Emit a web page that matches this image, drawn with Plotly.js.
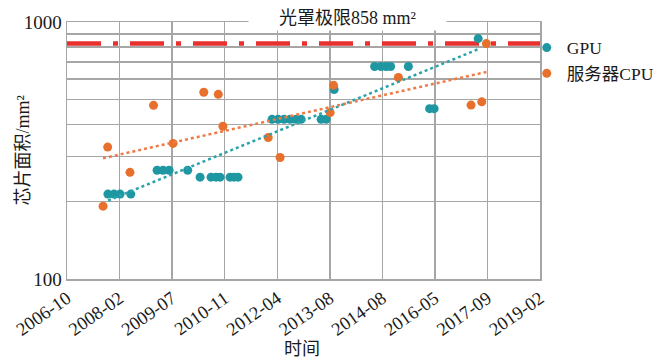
<!DOCTYPE html>
<html>
<head>
<meta charset="utf-8">
<script src="https://cdn.plot.ly/plotly-3.0.1.min.js"></script>
<style>html,body{margin:0;padding:0;background:#fff;}#chart{width:660px;height:358px;}</style>
</head>
<body>
<div id="chart"></div>
<script>
// ---- data ----
const gpuDates = ['2007-11-08','2008-01-05','2008-03-03','2008-06-13','2009-02-18','2009-04-16','2009-06-12','2009-12-06',
  '2010-04-03','2010-07-16','2010-09-02','2010-10-10','2011-01-13','2011-02-20','2011-03-30',
  '2012-02-16','2012-04-14','2012-06-10','2012-08-06','2012-10-02','2012-11-19','2013-05-28','2013-07-15','2013-09-29',
  '2014-10-19','2014-12-19','2015-02-05','2015-03-20','2015-09-05','2016-03-25','2016-05-07','2017-06-30'];
const gpuArea = [214,214,214,214,265,265,265,265,
  249,249,249,249,249,249,249,
  418,418,418,418,418,418,418,418,546,
  671,671,671,671,671,460,460,862];

const cpuDates = ['2007-09-23','2007-11-06','2008-06-05','2009-01-15','2009-07-20','2010-05-08','2010-09-23','2010-11-06',
  '2012-01-11','2012-05-03','2013-08-22','2013-09-23','2015-06-02','2017-04-23','2017-08-03','2017-09-16'];
const cpuArea = [192,326,260,474,337,533,523,393,355,297,444,567,608,475,489,824];

const gpuTrendDates = ['2007-11-10','2017-06-28'];
const gpuTrendArea = [202,783];
const cpuTrendDates = ['2007-09-23','2017-09-16'];
const cpuTrendArea = [295,639];

const limitDates = ['2006-10-15','2019-02-08'];
const limitArea = [825,825];

const tickDates = ['2006-10-15','2008-02-27','2009-07-11','2010-11-23','2012-04-06','2013-08-19','2014-12-31','2016-05-14','2017-09-26','2019-02-08'];
const tickLabels = ['2006-10','2008-02','2009-07','2010-11','2012-04','2013-08','2014-08','2016-05','2017-09','2019-02'];
const yTickVals = [100,200,300,400,500,600,700,800,900,1000];
const yTickText = ['100','','','','','','','','','1000'];

const seriesNames = ['GPU','服务器CPU'];
const titleText = '光罩极限858 mm²';
const yTitle = '芯片面积/mm²';
const xTitle = '时间';

// ---- style ----
const FONT = '"Liberation Serif", "Times New Roman", "Noto Sans CJK SC", serif';
const GPU_C = '#1f97a2';
const CPU_C = '#e8702d';
const GRID = '#a6a6a6';

const traces = [
  {x: limitDates, y: limitArea, mode: 'lines', showlegend: false, hoverinfo: 'skip',
   line: {color: '#e8312f', width: 4.5, dash: '34px,12px,5px,12px'}},
  {x: gpuDates, y: gpuArea, name: seriesNames[0], mode: 'markers', type: 'scatter',
   marker: {color: GPU_C, size: 9}},
  {x: cpuDates, y: cpuArea, name: seriesNames[1], mode: 'markers', type: 'scatter',
   marker: {color: CPU_C, size: 9}},
  {x: gpuTrendDates, y: gpuTrendArea, mode: 'lines', showlegend: false, hoverinfo: 'skip',
   line: {color: '#2aa3ad', width: 2.5, dash: 'dot'}},
  {x: cpuTrendDates, y: cpuTrendArea, mode: 'lines', showlegend: false, hoverinfo: 'skip',
   line: {color: '#ef7a45', width: 2.5, dash: 'dot'}}
];

const layout = {
  width: 660, height: 358,
  margin: {l: 67, r: 120, t: 22, b: 79, pad: 0, autoexpand: false},
  paper_bgcolor: '#fff', plot_bgcolor: '#fff',
  font: {family: FONT, size: 18, color: '#1a1a1a'},
  showlegend: true,
  legend: {x: 0.972, xanchor: 'left', y: 0.97, yanchor: 'top', bgcolor: 'rgba(0,0,0,0)',
           font: {family: FONT, size: 17.5, color: '#1a1a1a'}, tracegroupgap: 0, itemwidth: 30},
  xaxis: {type: 'date', range: [limitDates[0], limitDates[1]], tickmode: 'array', tickvals: tickDates, ticktext: tickLabels,
          tickangle: -35, showgrid: true, gridcolor: GRID, gridwidth: 1.5, showline: true, linecolor: GRID, linewidth: 1.5,
          mirror: true, ticks: '', zeroline: false, tickfont: {family: FONT, size: 18.5, color: '#1a1a1a'}, automargin: false},
  yaxis: {type: 'log', range: [2, 3], tickmode: 'array', tickvals: yTickVals, ticktext: yTickText,
          showgrid: true, gridcolor: GRID, gridwidth: 1.5, showline: true, linecolor: GRID, linewidth: 1.5,
          mirror: true, ticks: '', zeroline: false, tickfont: {family: FONT, size: 19, color: '#1a1a1a'}, automargin: false},
  annotations: [
    {text: titleText, xref: 'paper', yref: 'paper', x: 0.593, y: 1, yanchor: 'middle', yshift: 4,
     showarrow: false, bgcolor: '#fff', width: 195, height: 22, font: {family: FONT, size: 18, color: '#1a1a1a'}},
    {text: yTitle, xref: 'paper', yref: 'paper', x: -0.095, y: 0.5, xanchor: 'center', yanchor: 'middle',
     textangle: -90, showarrow: false, font: {family: FONT, size: 18, color: '#1a1a1a'}},
    {text: xTitle, xref: 'paper', yref: 'paper', x: 0.497, y: -0.271, xanchor: 'center', yanchor: 'middle',
     showarrow: false, font: {family: FONT, size: 18, color: '#1a1a1a'}}
  ]
};

Plotly.newPlot('chart', traces, layout, {displayModeBar: false, staticPlot: true});
</script>
</body>
</html>
